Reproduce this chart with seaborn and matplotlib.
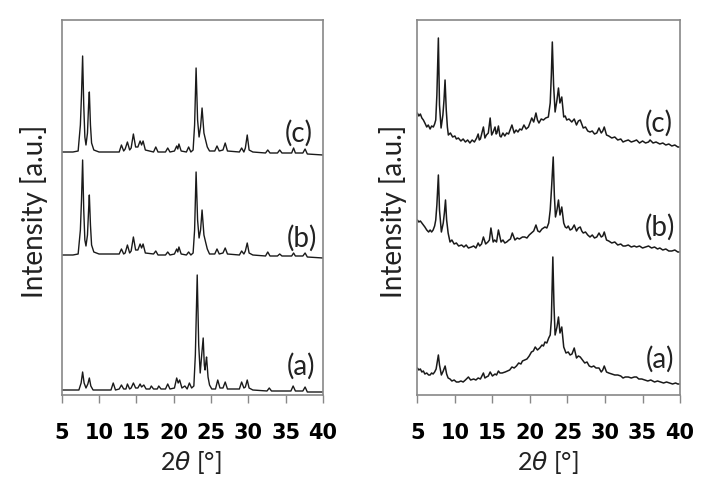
import numpy as np
import matplotlib
matplotlib.use("Agg")
import matplotlib.pyplot as plt
import seaborn as sns

# values (intensity in arbitrary units, traces already offset)
left_x = [5.0, 6.5, 7.2, 7.5, 7.65, 7.8, 7.95, 8.1, 8.25, 8.45, 8.6, 8.7, 8.85, 9.0, 9.3, 10.0,
          12.7, 13.0, 13.3, 13.5, 13.8, 14.1, 14.3, 14.6, 14.9, 15.2, 15.5, 15.7, 15.9, 16.2,
          17.3, 17.6, 17.9, 18.9, 19.2, 19.5, 20.1, 20.4, 20.55, 20.7, 21.0, 21.7, 22.0, 22.3,
          22.6, 22.8, 23.0, 23.2, 23.4, 23.6, 23.8, 24.05, 24.27, 24.5, 24.8, 25.5, 25.8, 26.1,
          26.6, 26.9, 27.2, 28.8, 29.1, 29.4, 29.6, 29.85, 30.1, 30.6, 32.3, 32.6, 32.9, 33.9,
          34.2, 34.5, 35.8, 36.06, 36.3, 37.3, 37.6, 37.9, 40.0]
left_c = [243, 243, 244, 270, 300, 339, 290, 258, 250, 262, 290, 303, 270, 252, 245, 243,
          243, 250, 244, 246, 253, 245, 247, 261, 248, 248, 254, 250, 254, 245,
          243, 248, 243, 243, 247, 243, 244, 249, 246, 251, 244, 243, 248, 243,
          245, 270, 327, 275, 258, 268, 287, 262, 255, 248, 244, 244, 249, 244,
          245, 252, 244, 243, 247, 243, 247, 260, 245, 243, 242, 245, 242, 242,
          245, 242, 242, 247, 242, 242, 246, 241, 240]
left_b = [140, 140, 141, 165, 195, 235, 185, 155, 149, 160, 185, 200, 170, 150, 143, 141,
          141, 146, 141, 142, 150, 142, 144, 158, 145, 145, 151, 147, 151, 142,
          141, 144, 140, 140, 143, 140, 141, 146, 143, 148, 141, 140, 143, 140,
          142, 165, 223, 175, 157, 165, 185, 160, 153, 146, 141, 141, 146, 141,
          142, 147, 141, 140, 144, 141, 144, 152, 142, 140, 139, 143, 139, 139,
          141, 139, 139, 142, 139, 139, 142, 138, 137]

left_a_x = [5.0, 7.3, 7.6, 7.8, 8.0, 8.25, 8.5, 8.7, 8.9, 9.2, 11.6, 11.9, 12.2, 12.7, 13.0, 13.3,
            13.6, 13.8, 14.1, 14.3, 14.6, 14.9, 15.2, 15.5, 15.7, 16.0, 16.3, 16.8, 17.0, 17.3,
            17.8, 18.0, 18.3, 18.9, 19.2, 19.5, 20.1, 20.4, 20.6, 20.8, 21.1, 21.5, 21.8, 22.1,
            22.4, 22.7, 22.9, 23.15, 23.35, 23.55, 23.75, 23.95, 24.1, 24.2, 24.3, 24.4, 24.6,
            24.8, 25.1, 25.6, 25.9, 26.2, 26.6, 26.9, 27.2, 28.8, 29.1, 29.4, 29.6, 29.85, 30.1,
            30.6, 32.5, 32.8, 33.1, 35.7, 36.0, 36.3, 37.3, 37.6, 37.9, 40.0]
left_a = [5, 5, 12, 23, 12, 7, 11, 17, 9, 5, 5, 12, 5, 6, 10, 6,
          6, 11, 6, 7, 12, 7, 7, 11, 8, 10, 6, 6, 9, 6,
          6, 9, 6, 6, 11, 6, 7, 17, 12, 15, 7, 9, 6, 12,
          7, 9, 40, 120, 50, 22, 40, 57, 30, 25, 32, 38, 18,
          10, 6, 6, 15, 7, 7, 13, 6, 6, 13, 7, 8, 15, 7,
          5, 4, 7, 4, 4, 9, 4, 4, 8, 3, 3]

right_c_x = [5.0, 5.2, 5.4, 5.6, 5.8, 6.0, 6.25, 6.45, 6.7, 6.9, 7.13, 7.3, 7.45, 7.6, 7.8, 7.95,
             8.16, 8.4, 8.55, 8.69, 8.85, 9.0, 9.13, 9.4, 9.7, 10.0, 10.2, 10.46, 10.8, 11.1,
             11.4, 11.7, 12.0, 12.3, 12.6, 12.9, 13.1, 13.25, 13.4, 13.6, 13.8, 14.0, 14.2,
             14.45, 14.7, 14.9, 15.1, 15.35, 15.5, 15.6, 15.8, 16.0, 16.15, 16.4, 16.65, 16.9,
             17.15, 17.35, 17.6, 17.9, 18.15, 18.4, 18.65, 18.9, 19.2, 19.5, 19.8, 20.0, 20.24,
             20.5, 20.8, 21.0, 21.2, 21.5, 21.8, 22.1, 22.45, 22.7, 22.85, 22.98, 23.15, 23.35,
             23.6, 23.8, 23.99, 24.24, 24.5, 24.7, 24.9, 25.2, 25.57, 25.9, 26.2, 26.45, 26.7,
             26.9, 27.1, 27.4, 27.7, 28.0, 28.3, 28.6, 28.9, 29.2, 29.5, 29.7, 29.9, 30.2, 30.5,
             30.9, 31.3, 31.7, 32.1, 32.4, 32.7, 33.1, 33.5, 33.9, 34.2, 34.6, 35.0, 35.4, 35.8,
             36.0, 36.4, 36.8, 37.3, 37.7, 38.1, 38.5, 38.9, 39.3, 39.7, 40.0]
right_c = [282, 279, 281, 277, 275, 272, 268, 270, 266, 269, 268, 271, 275, 300, 357, 290,
           267, 280, 295, 315, 285, 268, 260, 262, 258, 259, 256, 257, 254, 256,
           253, 255, 252, 255, 253, 257, 261, 255, 256, 262, 268, 257, 260,
           262, 277, 260, 263, 268, 261, 262, 269, 259, 258, 262, 259, 262,
           261, 265, 270, 262, 265, 263, 266, 265, 270, 266, 268, 272, 277,
           273, 282, 275, 272, 276, 275, 277, 278, 292, 320, 353, 310, 283,
           295, 307, 292, 298, 278, 279, 275, 276, 273, 276, 270, 274, 275,
           271, 267, 268, 264, 263, 264, 261, 262, 267, 262, 264, 268, 260, 259,
           257, 258, 255, 256, 253, 254, 255, 253, 254, 255, 252, 254, 252, 253,
           255, 252, 253, 251, 252, 250, 251, 249, 250, 248, 248]

right_b_x = [5.0, 5.2, 5.4, 5.6, 5.8, 6.0, 6.25, 6.5, 6.7, 6.9, 7.1, 7.3, 7.45, 7.6, 7.8, 7.95,
             8.2, 8.45, 8.6, 8.75, 8.9, 9.1, 9.35, 9.6, 9.9, 10.2, 10.5, 10.9, 11.2, 11.5, 11.8,
             12.2, 12.5, 12.8, 13.1, 13.3, 13.55, 13.8, 14.1, 14.4, 14.6, 14.8, 15.1, 15.3,
             15.55, 15.8, 16.15, 16.4, 16.65, 16.9, 17.2, 17.4, 17.65, 18.0, 18.3, 18.6, 19.0,
             19.3, 19.6, 19.9, 20.2, 20.5, 20.8, 21.05, 21.3, 21.6, 22.0, 22.25, 22.5, 22.7,
             22.9, 23.1, 23.25, 23.4, 23.6, 23.8, 24.0, 24.24, 24.5, 24.7, 24.9, 25.1, 25.35,
             25.6, 25.9, 26.2, 26.45, 26.7, 26.9, 27.1, 27.4, 27.7, 28.0, 28.3, 28.6, 28.9,
             29.2, 29.5, 29.7, 29.9, 30.2, 30.5, 30.9, 31.3, 31.7, 32.1, 32.4, 32.7, 33.1,
             33.5, 33.9, 34.2, 34.6, 35.0, 35.4, 35.8, 36.2, 36.6, 37.0, 37.3, 37.7, 38.1,
             38.5, 38.9, 39.3, 39.7, 40.0]
right_b = [175, 173, 174, 172, 170, 168, 165, 163, 165, 163, 165, 169, 175, 190, 220, 185,
           163, 172, 182, 195, 175, 162, 153, 155, 151, 152, 149, 150, 148, 150, 147,
           148, 149, 147, 152, 149, 151, 158, 151, 153, 155, 167, 153, 155,
           153, 165, 153, 155, 152, 153, 155, 156, 162, 155, 157, 156, 158,
           158, 157, 160, 162, 164, 170, 164, 163, 166, 168, 167, 172, 185,
           210, 238, 200, 178, 185, 195, 180, 188, 172, 168, 167, 169, 165,
           166, 170, 164, 167, 168, 164, 162, 163, 160, 158, 160, 157, 158,
           162, 158, 159, 163, 155, 154, 152, 153, 150, 151, 149, 149, 150,
           148, 149, 148, 149, 147, 148, 149, 147, 148, 146, 147, 145, 146,
           144, 144, 145, 143, 143]

right_a_x = [5.0, 5.2, 5.4, 5.6, 5.8, 6.0, 6.25, 6.5, 6.7, 6.9, 7.1, 7.3, 7.5, 7.65, 7.8, 7.95,
             8.2, 8.45, 8.7, 8.9, 9.1, 9.35, 9.6, 9.9, 10.2, 10.5, 10.8, 11.1, 11.4, 11.8, 12.1,
             12.5, 12.8, 13.1, 13.4, 13.8, 14.0, 14.2, 14.45, 14.7, 15.0, 15.35, 15.55, 15.8,
             16.0, 16.3, 16.7, 17.0, 17.3, 17.6, 17.9, 18.2, 18.5, 18.8, 19.0, 19.3, 19.6, 19.9,
             20.2, 20.45, 20.7, 21.0, 21.3, 21.6, 21.8, 22.0, 22.25, 22.5, 22.7, 22.85, 23.05,
             23.2, 23.35, 23.6, 23.8, 24.0, 24.24, 24.5, 24.65, 24.8, 25.1, 25.35, 25.6, 25.9,
             26.2, 26.45, 26.7, 27.0, 27.3, 27.6, 27.9, 28.2, 28.5, 28.8, 29.2, 29.5, 29.7,
             29.9, 30.2, 30.5, 30.9, 31.3, 31.7, 32.1, 32.4, 32.7, 33.1, 33.5, 33.9, 34.2, 34.5,
             34.9, 35.3, 35.7, 36.1, 36.6, 37.0, 37.4, 37.8, 38.2, 38.6, 39.0, 39.4, 39.7, 40.0]
right_a = [27, 25, 26, 23, 24, 21, 22, 20, 20, 22, 21, 23, 26, 33, 40, 30,
           20, 24, 29, 21, 17, 16, 14, 15, 13, 13, 14, 13, 15, 18, 15,
           16, 15, 17, 16, 22, 17, 18, 19, 23, 19, 21, 20, 24,
           22, 22, 23, 24, 25, 28, 27, 29, 32, 31, 34, 35, 36, 39,
           43, 44, 48, 45, 47, 50, 49, 53, 52, 57, 60, 75, 138,
           90, 60, 68, 78, 62, 68, 48, 45, 42, 43, 40, 41, 47,
           37, 39, 38, 35, 32, 33, 29, 28, 29, 27, 27, 23, 25,
           29, 23, 22, 21, 20, 20, 19, 17, 18, 18, 17, 18, 18, 16,
           16, 15, 14, 15, 13, 14, 13, 12, 13, 12, 11, 12, 11, 11]

tick_vals = [5, 10, 15, 20, 25, 30, 35, 40]
sample_labels = ["(a)", "(b)", "(c)"]
left_label_pos = [(37.0, 29), (37.2, 157), (36.8, 262)]
right_label_pos = [(37.3, 36), (37.35, 168), (37.2, 272)]

sns.set_style("white")
fig = plt.figure(figsize=(7.11, 5.0), dpi=100)
ax1 = fig.add_axes([0.0868, 0.21, 0.3675, 0.75])
ax2 = fig.add_axes([0.587, 0.21, 0.3695, 0.75])

line_col = "#1a1a1a"
sns.lineplot(x=left_a_x, y=left_a, ax=ax1, color=line_col, lw=1.0, estimator=None)
sns.lineplot(x=left_x, y=left_b, ax=ax1, color=line_col, lw=1.0, estimator=None)
sns.lineplot(x=left_x, y=left_c, ax=ax1, color=line_col, lw=1.0, estimator=None)
sns.lineplot(x=right_a_x, y=right_a, ax=ax2, color=line_col, lw=1.1, estimator=None)
sns.lineplot(x=right_b_x, y=right_b, ax=ax2, color=line_col, lw=1.1, estimator=None)
sns.lineplot(x=right_c_x, y=right_c, ax=ax2, color=line_col, lw=1.1, estimator=None)

for ax, pos in [(ax1, left_label_pos), (ax2, right_label_pos)]:
    ax.set_xlim(5, 40)
    ax.set_ylim(0, 375)
    ax.set_yticks([])
    ax.set_xticks(tick_vals)
    ax.set_xticklabels([str(t) for t in tick_vals], fontfamily="DejaVu Sans",
                       fontweight="bold", fontsize=15, color="black")
    ax.tick_params(axis="x", direction="out", length=6, width=1, color="#888888",
                   pad=14, bottom=True)
    for s in ax.spines.values():
        s.set_color("#888888")
        s.set_linewidth(1.2)
    ax.set_xlabel("")
    ax.set_ylabel("")
    for lab, (px, py) in zip(sample_labels, pos):
        ax.text(px, py, lab, ha="center", va="center", fontsize=20,
                fontfamily="Lato", color="#222222")

for xc in [191 / 711, 548 / 711]:
    fig.text(xc, 1 - 463 / 500, r"2$\theta$ [°]", ha="center", va="center",
             fontsize=18, fontfamily="Lato", color="#222222")
for xc in [34 / 711, 393 / 711]:
    fig.text(xc, 1 - 211 / 500, "Intensity [a.u.]", ha="center", va="center",
             rotation=90, fontsize=20, fontfamily="Lato", color="#222222")

fig.savefig("out.png", dpi=100)
